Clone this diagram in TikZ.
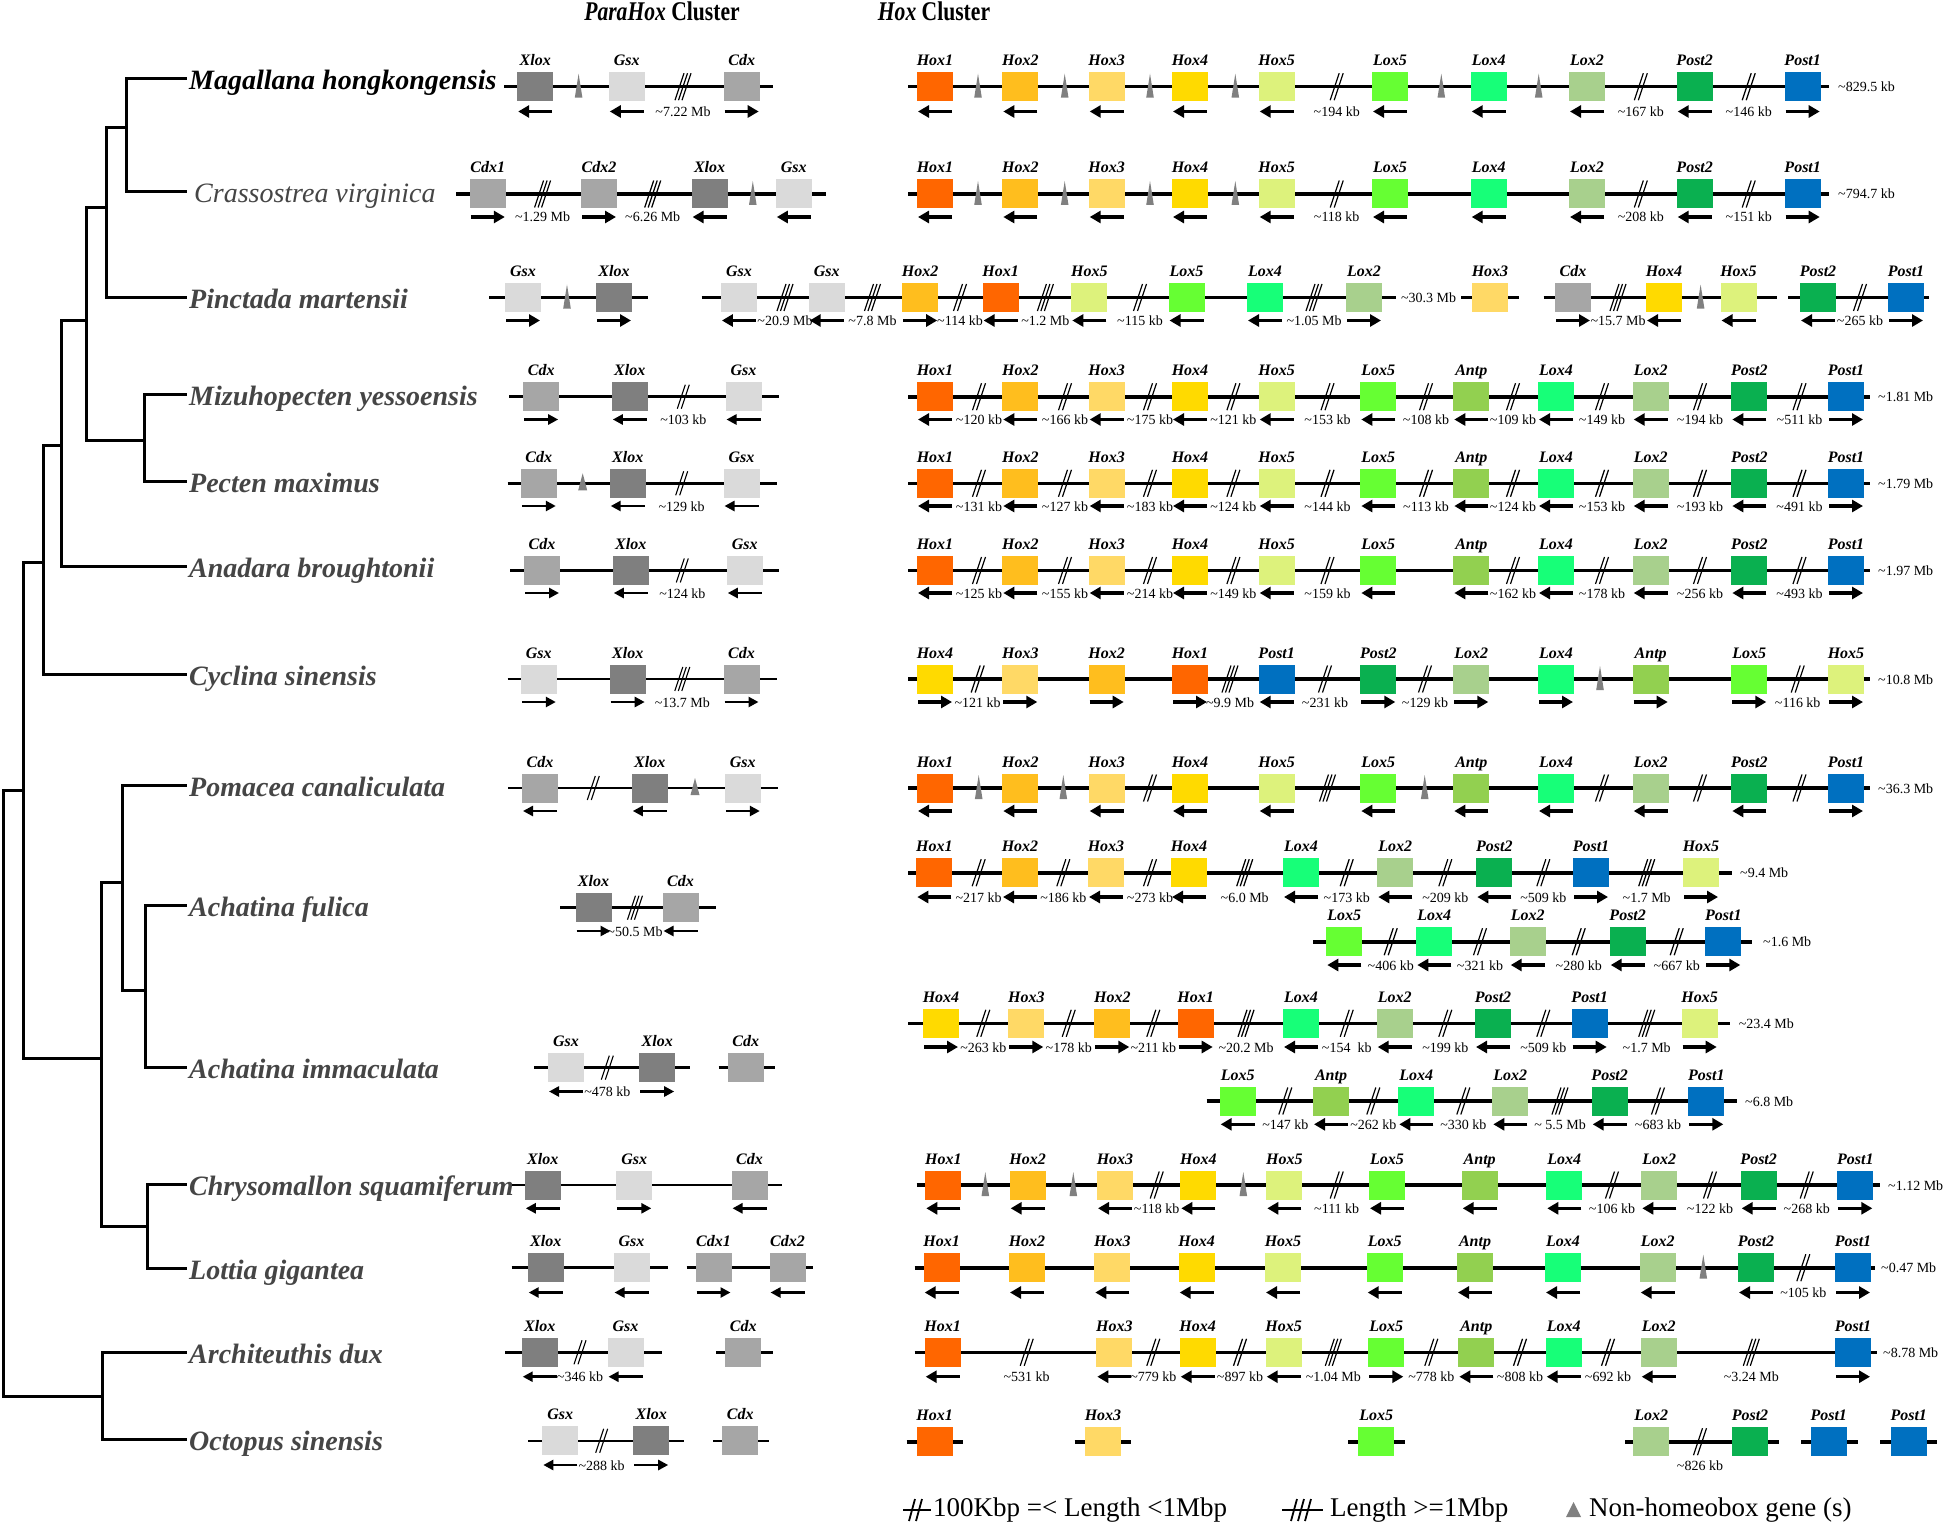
\documentclass[tikz,border=0pt]{standalone}
\usepackage{fontspec}
\setmainfont{Liberation Serif}
\newfontfamily\titlefam[FakeStretch=0.8]{Liberation Serif}
\usetikzlibrary{arrows.meta}
\definecolor{gcHox1}{HTML}{FF6600}
\definecolor{gcHox2}{HTML}{FFBE1E}
\definecolor{gcHox3}{HTML}{FFD966}
\definecolor{gcHox4}{HTML}{FFDA00}
\definecolor{gcHox5}{HTML}{DDF27C}
\definecolor{gcLox5}{HTML}{66FF33}
\definecolor{gcAntp}{HTML}{92D050}
\definecolor{gcLox4}{HTML}{17FF78}
\definecolor{gcLox2}{HTML}{A8D08D}
\definecolor{gcPost2}{HTML}{0AB050}
\definecolor{gcPost1}{HTML}{0070C0}
\definecolor{gcXlox}{HTML}{7F7F7F}
\definecolor{gcGsx}{HTML}{DADADA}
\definecolor{gcCdx}{HTML}{A6A6A6}
\definecolor{gcCdx1}{HTML}{A6A6A6}
\definecolor{gcCdx2}{HTML}{A6A6A6}
\definecolor{cTri}{HTML}{808080}
\definecolor{cName}{HTML}{454545}
\newcounter{gcnt}
\newcommand{\tld}{\textasciitilde}
\def\ly{0}\def\ay{0}\def\sh{13}\def\sw{4}
\tikzset{
 genebox/.style={minimum width=36pt, minimum height=29pt, inner sep=0pt, draw=none},
 genelab/.style={anchor=base, inner sep=0pt, font=\fontsize{16}{16}\selectfont\bfseries\itshape},
 distlab/.style={anchor=base, inner sep=0.5pt, font=\fontsize{14}{14}\selectfont},
 sizelab/.style={anchor=base west, inner sep=0pt, font=\fontsize{14}{14}\selectfont},
 hchrom/.style={line width=3.6pt},
 pchrom/.style={line width=2.6pt},
 harr/.style={line width=3.4pt, -{Triangle[length=11pt,width=12pt]}},
 parr/.style={line width=2.5pt, -{Triangle[length=10pt,width=10pt]}},
 hslash/.style={line width=1.2pt},
 pslash/.style={line width=1.1pt},
 treeline/.style={line width=3pt, line cap=rect},
 spname/.style={anchor=base west, inner sep=0pt, text=cName, font=\fontsize{28}{28}\selectfont\bfseries\itshape},
 legfont/.style={anchor=west, inner sep=0pt, font=\fontsize{27}{27}\selectfont},
 titlefont/.style={inner sep=0pt, font=\titlefam\fontsize{27}{27}\selectfont\bfseries},
 curchrom/.style={hchrom}, curarr/.style={harr}, curslash/.style={hslash}
}
\newcommand{\hoxmode}{\tikzset{curchrom/.style={hchrom},curarr/.style={harr},curslash/.style={hslash}}\def\sh{13.5}\def\sw{4.5}}
\newcommand{\parmode}{\tikzset{curchrom/.style={pchrom},curarr/.style={parr},curslash/.style={pslash}}\def\sh{12}\def\sw{4}}
\newcommand{\gline}[2]{\draw[curchrom] (#1,\ly) -- (#2,\ly);}
\newcommand{\gtri}[1]{\fill[cTri] ({#1-3.8},{\ly+11}) -- (#1,{\ly-13}) -- ({#1+3.8},{\ly+11}) -- cycle;}
\newcommand{\ptri}[1]{\fill[cTri] ({#1-4.5},{\ly+7}) -- (#1,{\ly-10}) -- ({#1+4.5},{\ly+7}) -- cycle;}
\newcommand{\gsize}[2]{\stepcounter{gcnt}\node[sizelab] (s\arabic{gcnt}) at (#1,{\ly+5}) {#2};}
\newcommand{\ggene}[3]{%
  \stepcounter{gcnt}%
  \node[genebox,fill=gc#2] (g\arabic{gcnt}) at (#1,\ly) {};
  \node[genelab] (l\arabic{gcnt}) at (#1,{\ly-21}) {#2};
  \if#3l\draw[curarr] ({#1+17},\ay) -- ({#1-17},\ay);\fi
  \if#3r\draw[curarr] ({#1-17},\ay) -- ({#1+17},\ay);\fi
}
\newcommand{\gbrk}[3]{%
  \ifnum#2=2
    \draw[curslash] ({#1-2-\sw},{\ly+\sh}) -- ({#1-2+\sw},{\ly-\sh}) ({#1+2-\sw},{\ly+\sh}) -- ({#1+2+\sw},{\ly-\sh});
  \else
    \draw[curslash] ({#1-3.5-\sw},{\ly+\sh}) -- ({#1-3.5+\sw},{\ly-\sh}) ({#1-\sw},{\ly+\sh}) -- ({#1+\sw},{\ly-\sh}) ({#1+3.5-\sw},{\ly+\sh}) -- ({#1+3.5+\sw},{\ly-\sh});
  \fi
  \stepcounter{gcnt}\node[distlab] (d\arabic{gcnt}) at (#1,{\ay+5}) {#3};}

\begin{document}
\begin{tikzpicture}[x=1pt,y=-1pt]
\fill[white] (0,0) rectangle (1946,1525);
\useasboundingbox (0,0) rectangle (1946,1525);

% ---------------- titles
\node[titlefont] (tPara) at (662,11) {\textit{ParaHox} Cluster};
\node[titlefont] (tHox) at (934,11) {\textit{Hox} Cluster};

% ---------------- tree
\coordinate (Lmag) at (185,79);
\coordinate (Lcra) at (185,191.5);
\coordinate (Lpin) at (185,297);
\coordinate (Lmiz) at (185,394);
\coordinate (Lpec) at (185,481);
\coordinate (Lana) at (185,566);
\coordinate (Lcyc) at (185,674);
\coordinate (Lpom) at (185,785);
\coordinate (Lafu) at (185,905);
\coordinate (Laim) at (185,1067);
\coordinate (Lchr) at (185,1184);
\coordinate (Llot) at (185,1268);
\coordinate (Larc) at (185,1352);
\coordinate (Loct) at (185,1439);
\coordinate (N1) at (126.7,128);
\coordinate (N2) at (106,208);
\coordinate (N3) at (144,440);
\coordinate (N4) at (86.7,320);
\coordinate (N5) at (61,445);
\coordinate (N6) at (43,562);
\coordinate (N7) at (145,990);
\coordinate (N8) at (122,882);
\coordinate (N9) at (147,1226);
\coordinate (N10) at (101,1058);
\coordinate (N11) at (23,790);
\coordinate (N12) at (102,1396);
\coordinate (NR) at (3.5,1000);
\draw[treeline] (Lmag) -| (N1) |- (Lcra);
\draw[treeline] (N1) -| (N2) |- (Lpin);
\draw[treeline] (Lmiz) -| (N3) |- (Lpec);
\draw[treeline] (N2) -| (N4) |- (N3);
\draw[treeline] (N4) -| (N5) |- (Lana);
\draw[treeline] (N5) -| (N6) |- (Lcyc);
\draw[treeline] (Lafu) -| (N7) |- (Laim);
\draw[treeline] (Lpom) -| (N8) |- (N7);
\draw[treeline] (Lchr) -| (N9) |- (Llot);
\draw[treeline] (N8) -| (N10) |- (N9);
\draw[treeline] (N6) -| (N11) |- (N10);
\draw[treeline] (Larc) -| (N12) |- (Loct);
\draw[treeline] (N11) -| (NR) |- (N12);

% ---------------- species names
\node[spname,text=black] (nMag) at (189,90) {Magallana hongkongensis};
\node[spname,font=\fontsize{28}{28}\selectfont\itshape] (nCra) at (194,202.5) {Crassostrea virginica};
\node[spname] (nPin) at (189,308) {Pinctada martensii};
\node[spname] (nMiz) at (189,405) {Mizuhopecten yessoensis};
\node[spname] (nPec) at (189,492) {Pecten maximus};
\node[spname] (nAna) at (189,577) {Anadara broughtonii};
\node[spname] (nCyc) at (189,685) {Cyclina sinensis};
\node[spname] (nPom) at (189,796) {Pomacea canaliculata};
\node[spname] (nAfu) at (189,916) {Achatina fulica};
\node[spname] (nAim) at (189,1078) {Achatina immaculata};
\node[spname] (nChr) at (189,1195) {Chrysomallon squamiferum};
\node[spname] (nLot) at (189,1279) {Lottia gigantea};
\node[spname] (nArc) at (189,1363) {Architeuthis dux};
\node[spname] (nOct) at (189,1450) {Octopus sinensis};

% ================= Row 1 Magallana
\hoxmode
\def\ly{86.7}\def\ay{111.5}
\gline{908}{1829}
\ggene{935}{Hox1}{l}\ggene{1020.3}{Hox2}{l}\ggene{1106.7}{Hox3}{l}\ggene{1190}{Hox4}{l}\ggene{1276.7}{Hox5}{l}
\ggene{1390}{Lox5}{l}\ggene{1488.7}{Lox4}{l}\ggene{1587}{Lox2}{l}\ggene{1694.7}{Post2}{l}\ggene{1802.7}{Post1}{r}
\gtri{978}\gtri{1064.7}\gtri{1150}\gtri{1235.3}\gtri{1441.3}\gtri{1538.7}
\gbrk{1336.7}{2}{\tld194 kb}\gbrk{1640.8}{2}{\tld167 kb}\gbrk{1748.7}{2}{\tld146 kb}
\gsize{1838}{\tld829.5 kb}
\gline{504}{773}
\ggene{535.2}{Xlox}{l}\gtri{578.6}\ggene{626.8}{Gsx}{l}\gbrk{683}{3}{\tld7.22 Mb}\ggene{741.7}{Cdx}{r}

% ================= Row 2 Crassostrea
\def\ly{194}\def\ay{217}
\gline{908}{1829}
\ggene{935}{Hox1}{l}\ggene{1020.3}{Hox2}{l}\ggene{1106.7}{Hox3}{l}\ggene{1190}{Hox4}{l}\ggene{1276.7}{Hox5}{l}
\ggene{1390}{Lox5}{l}\ggene{1488.7}{Lox4}{l}\ggene{1587}{Lox2}{l}\ggene{1694.7}{Post2}{l}\ggene{1802.7}{Post1}{r}
\gtri{978}\gtri{1064.7}\gtri{1150}\gtri{1235.3}
\gbrk{1336.7}{2}{\tld118 kb}\gbrk{1640.8}{2}{\tld208 kb}\gbrk{1748.7}{2}{\tld151 kb}
\gsize{1838}{\tld794.7 kb}
\gline{456}{826}
\ggene{487.8}{Cdx1}{r}\gbrk{542.6}{3}{\tld1.29 Mb}\ggene{599}{Cdx2}{r}\gbrk{652.7}{3}{\tld6.26 Mb}
\ggene{709.6}{Xlox}{l}\gtri{752.8}\ggene{793.8}{Gsx}{l}

% ================= Row 3 Pinctada
\def\ly{297.5}\def\ay{320.5}
\gline{489}{648}
\ggene{523}{Gsx}{r}\gtri{567}\ggene{614}{Xlox}{r}
\gline{701.5}{1396}
\ggene{738.9}{Gsx}{l}\gbrk{785}{3}{\tld20.9 Mb}\ggene{826.7}{Gsx}{l}\gbrk{872.5}{3}{\tld7.8 Mb}
\ggene{920.2}{Hox2}{r}\gbrk{960}{2}{\tld114 kb}\ggene{1000.6}{Hox1}{l}\gbrk{1045.4}{3}{\tld1.2 Mb}
\ggene{1089.3}{Hox5}{l}\gbrk{1140}{2}{\tld115 kb}\ggene{1186.5}{Lox5}{l}
\ggene{1265}{Lox4}{l}\gbrk{1314}{3}{\tld1.05 Mb}\ggene{1364}{Lox2}{r}
\stepcounter{gcnt}\node[distlab] (m\arabic{gcnt}) at (1428.6,{\ly+5}) {\tld30.3 Mb};
\gline{1461}{1519}
\ggene{1490}{Hox3}{n}
\gline{1543.5}{1777}
\ggene{1573}{Cdx}{r}\gbrk{1618}{3}{\tld15.7 Mb}\ggene{1664}{Hox4}{l}\gtri{1700.6}\ggene{1738.5}{Hox5}{l}
\gline{1788.4}{1928.6}
\ggene{1818}{Post2}{l}\gbrk{1860}{2}{\tld265 kb}\ggene{1906}{Post1}{r}

% ================= Row 4 Mizuhopecten
\def\ly{396.7}\def\ay{419.5}
\gline{908}{1870}
\ggene{935}{Hox1}{l}\ggene{1020.3}{Hox2}{l}\ggene{1106.7}{Hox3}{l}\ggene{1190}{Hox4}{l}\ggene{1276.7}{Hox5}{l}
\ggene{1378.3}{Lox5}{l}\ggene{1471.3}{Antp}{l}\ggene{1556}{Lox4}{l}\ggene{1650.7}{Lox2}{l}\ggene{1749.3}{Post2}{l}\ggene{1846}{Post1}{r}
\gbrk{979}{2}{\tld120 kb}\gbrk{1065}{2}{\tld166 kb}\gbrk{1150}{2}{\tld175 kb}\gbrk{1233.4}{2}{\tld121 kb}
\gbrk{1327.5}{2}{\tld153 kb}\gbrk{1426}{2}{\tld108 kb}\gbrk{1513}{2}{\tld109 kb}\gbrk{1602}{2}{\tld149 kb}
\gbrk{1700}{2}{\tld194 kb}\gbrk{1799.5}{2}{\tld511 kb}
\gsize{1878}{\tld1.81 Mb}
\parmode
\gline{509}{779}
\ggene{541.2}{Cdx}{r}\ggene{629.8}{Xlox}{l}\gbrk{683.3}{2}{\tld103 kb}\ggene{743.5}{Gsx}{l}

% ================= Row 5 Pecten
\hoxmode
\def\ly{483.3}\def\ay{506}
\gline{908}{1870}
\ggene{935}{Hox1}{l}\ggene{1020.3}{Hox2}{l}\ggene{1106.7}{Hox3}{l}\ggene{1190}{Hox4}{l}\ggene{1276.7}{Hox5}{l}
\ggene{1378.3}{Lox5}{l}\ggene{1471.3}{Antp}{l}\ggene{1556}{Lox4}{l}\ggene{1650.7}{Lox2}{l}\ggene{1749.3}{Post2}{l}\ggene{1846}{Post1}{r}
\gbrk{979}{2}{\tld131 kb}\gbrk{1065}{2}{\tld127 kb}\gbrk{1150}{2}{\tld183 kb}\gbrk{1233.4}{2}{\tld124 kb}
\gbrk{1327.5}{2}{\tld144 kb}\gbrk{1426}{2}{\tld113 kb}\gbrk{1513}{2}{\tld124 kb}\gbrk{1602}{2}{\tld153 kb}
\gbrk{1700}{2}{\tld193 kb}\gbrk{1799.5}{2}{\tld491 kb}
\gsize{1878}{\tld1.79 Mb}
\parmode
\gline{507.7}{776.7}
\ggene{538.8}{Cdx}{r}\ptri{582.7}\ggene{627.7}{Xlox}{l}\gbrk{681.7}{2}{\tld129 kb}\ggene{741.5}{Gsx}{l}

% ================= Row 6 Anadara
\hoxmode
\def\ly{570.5}\def\ay{593}
\gline{908}{1870}
\ggene{935}{Hox1}{l}\ggene{1020.3}{Hox2}{l}\ggene{1106.7}{Hox3}{l}\ggene{1190}{Hox4}{l}\ggene{1276.7}{Hox5}{l}
\ggene{1378.3}{Lox5}{l}\ggene{1471.3}{Antp}{l}\ggene{1556}{Lox4}{l}\ggene{1650.7}{Lox2}{l}\ggene{1749.3}{Post2}{l}\ggene{1846}{Post1}{r}
\gbrk{979}{2}{\tld125 kb}\gbrk{1065}{2}{\tld155 kb}\gbrk{1150}{2}{\tld214 kb}\gbrk{1233.4}{2}{\tld149 kb}
\gbrk{1327.5}{2}{\tld159 kb}\gbrk{1513}{2}{\tld162 kb}\gbrk{1602}{2}{\tld178 kb}
\gbrk{1700}{2}{\tld256 kb}\gbrk{1799.5}{2}{\tld493 kb}
\gsize{1878}{\tld1.97 Mb}
\parmode
\gline{510}{779.3}
\ggene{542}{Cdx}{r}\ggene{630.8}{Xlox}{l}\gbrk{682.3}{2}{\tld124 kb}\ggene{744.8}{Gsx}{l}

% ================= Row 7 Cyclina
\hoxmode
\def\ly{679}\def\ay{702}
\gline{908}{1870}
\ggene{935}{Hox4}{r}\ggene{1020.3}{Hox3}{r}\ggene{1106.7}{Hox2}{r}\ggene{1190}{Hox1}{r}\ggene{1276.7}{Post1}{l}
\ggene{1378.3}{Post2}{r}\ggene{1471.3}{Lox2}{r}\ggene{1556}{Lox4}{r}\ggene{1650.7}{Antp}{r}\ggene{1749.3}{Lox5}{r}\ggene{1846}{Hox5}{r}
\gbrk{977.7}{2}{\tld121 kb}\gbrk{1230}{3}{\tld9.9 Mb}\gbrk{1325}{2}{\tld231 kb}\gbrk{1425}{2}{\tld129 kb}
\gtri{1600}\gbrk{1797.7}{2}{\tld116 kb}
\gsize{1878}{\tld10.8 Mb}
\parmode
\gline{507.7}{776.7}
\ggene{538.8}{Gsx}{r}\ggene{627.7}{Xlox}{r}\gbrk{682.3}{3}{\tld13.7 Mb}\ggene{741.5}{Cdx}{r}

% ================= Row 8 Pomacea
\hoxmode
\def\ly{788}\def\ay{811}
\gline{908}{1870}
\ggene{935}{Hox1}{l}\ggene{1020.3}{Hox2}{l}\ggene{1106.7}{Hox3}{l}\ggene{1190}{Hox4}{l}\ggene{1276.7}{Hox5}{l}
\ggene{1378.3}{Lox5}{l}\ggene{1471.3}{Antp}{l}\ggene{1556}{Lox4}{l}\ggene{1650.7}{Lox2}{l}\ggene{1749.3}{Post2}{l}\ggene{1846}{Post1}{r}
\gtri{978.7}\gtri{1063.3}\gtri{1424.7}
\gbrk{1150}{2}{}\gbrk{1327.5}{3}{}\gbrk{1602}{2}{}\gbrk{1700}{2}{}\gbrk{1799.5}{2}{}
\gsize{1878}{\tld36.3 Mb}
\parmode
\gline{508.3}{777.7}
\ggene{540}{Cdx}{l}\gbrk{593.3}{2}{}\ggene{649.8}{Xlox}{l}\ptri{695}\ggene{742.8}{Gsx}{r}

% ================= Row 9/10 Achatina fulica
\hoxmode
\def\ly{872.7}\def\ay{897}
\gline{908}{1732}
\ggene{934.3}{Hox1}{l}\gbrk{978.7}{2}{\tld217 kb}\ggene{1020}{Hox2}{l}\gbrk{1063.3}{2}{\tld186 kb}
\ggene{1106}{Hox3}{l}\gbrk{1150}{2}{\tld273 kb}\ggene{1189}{Hox4}{l}\gbrk{1244.7}{3}{\tld6.0 Mb}
\ggene{1301}{Lox4}{l}\gbrk{1346.7}{2}{\tld173 kb}\ggene{1395.3}{Lox2}{l}\gbrk{1445.3}{2}{\tld209 kb}
\ggene{1494.3}{Post2}{l}\gbrk{1543.3}{2}{\tld509 kb}\ggene{1591}{Post1}{r}\gbrk{1646.7}{3}{\tld1.7 Mb}\ggene{1701}{Hox5}{r}
\gsize{1740}{\tld9.4 Mb}
\def\ly{941.7}\def\ay{965}
\gline{1313.3}{1752}
\ggene{1344.3}{Lox5}{l}\gbrk{1390.7}{2}{\tld406 kb}\ggene{1434.3}{Lox4}{l}\gbrk{1480}{2}{\tld321 kb}
\ggene{1527.7}{Lox2}{l}\gbrk{1578.7}{2}{\tld280 kb}\ggene{1627.7}{Post2}{l}\gbrk{1676.7}{2}{\tld667 kb}\ggene{1723.3}{Post1}{r}
\gsize{1763}{\tld1.6 Mb}
\parmode
\def\ly{907.7}\def\ay{931}
\gline{560}{716}
\ggene{593.5}{Xlox}{r}\gbrk{635}{3}{\tld50.5 Mb}\ggene{680.5}{Cdx}{l}

% ================= Row 11/12 Achatina immaculata
\hoxmode
\def\ly{1023.3}\def\ay{1047}
\gline{908}{1730}
\ggene{941}{Hox4}{r}\gbrk{983.3}{2}{\tld263 kb}\ggene{1026.3}{Hox3}{r}\gbrk{1068.7}{2}{\tld178 kb}
\ggene{1112.3}{Hox2}{r}\gbrk{1153.3}{2}{\tld211 kb}\ggene{1195.7}{Hox1}{r}\gbrk{1246}{3}{\tld20.2 Mb}
\ggene{1301}{Lox4}{l}\gbrk{1346.7}{2}{\tld154\ \ kb}\ggene{1394.7}{Lox2}{l}\gbrk{1445.3}{2}{\tld199 kb}
\ggene{1493}{Post2}{l}\gbrk{1543.3}{2}{\tld509 kb}\ggene{1589.7}{Post1}{r}\gbrk{1646.7}{3}{\tld1.7 Mb}\ggene{1699.7}{Hox5}{r}
\gsize{1738.7}{\tld23.4 Mb}
\def\ly{1101}\def\ay{1124.3}
\gline{1206.7}{1736.7}
\ggene{1237.7}{Lox5}{l}\gbrk{1285.3}{2}{\tld147 kb}\ggene{1331}{Antp}{l}\gbrk{1373.3}{2}{\tld262 kb}
\ggene{1416.3}{Lox4}{l}\gbrk{1463.3}{2}{\tld330 kb}\ggene{1510.3}{Lox2}{l}\gbrk{1560}{3}{\tld\ 5.5 Mb}
\ggene{1609.7}{Post2}{l}\gbrk{1658}{2}{\tld683 kb}\ggene{1706.3}{Post1}{r}
\gsize{1745}{\tld6.8 Mb}
\parmode
\def\ly{1067.6}\def\ay{1091.5}
\gline{534}{690}
\ggene{566}{Gsx}{l}\gbrk{607.3}{2}{\tld478 kb}\ggene{657.2}{Xlox}{r}
\gline{718.7}{775.3}
\ggene{745.8}{Cdx}{n}

% ================= Row 13 Chrysomallon
\hoxmode
\def\ly{1185}\def\ay{1208.3}
\gline{916.7}{1880}
\ggene{943.3}{Hox1}{l}\gtri{985.3}\ggene{1027.7}{Hox2}{l}\gtri{1073.3}\ggene{1115}{Hox3}{l}\gbrk{1156.7}{2}{\tld118 kb}
\ggene{1198.3}{Hox4}{l}\gtri{1243.3}\ggene{1284.3}{Hox5}{l}\gbrk{1336.7}{2}{\tld111 kb}\ggene{1387}{Lox5}{l}
\ggene{1479.7}{Antp}{l}\ggene{1564.3}{Lox4}{l}\gbrk{1612}{2}{\tld106 kb}\ggene{1659.3}{Lox2}{l}\gbrk{1710}{2}{\tld122 kb}
\ggene{1758.7}{Post2}{l}\gbrk{1806.7}{2}{\tld268 kb}\ggene{1855.3}{Post1}{r}
\gsize{1888}{\tld1.12 Mb}
\parmode
\gline{511.7}{781.7}
\ggene{542.8}{Xlox}{l}\ggene{634.3}{Gsx}{r}\ggene{749.5}{Cdx}{l}

% ================= Row 14 Lottia
\hoxmode
\def\ly{1267.7}\def\ay{1292.5}
\gline{914.7}{1874.7}
\ggene{941.7}{Hox1}{l}\ggene{1027}{Hox2}{l}\ggene{1112.3}{Hox3}{l}\ggene{1196.7}{Hox4}{l}\ggene{1283}{Hox5}{l}
\ggene{1384.7}{Lox5}{l}\ggene{1475}{Antp}{l}\ggene{1563}{Lox4}{l}\ggene{1657.7}{Lox2}{l}\gtri{1703.3}
\ggene{1756}{Post2}{l}\gbrk{1803.3}{2}{\tld105 kb}\ggene{1853}{Post1}{r}
\gsize{1881}{\tld0.47 Mb}
\parmode
\gline{511.7}{667.7}
\ggene{545.7}{Xlox}{l}\ggene{631.5}{Gsx}{l}
\gline{686.7}{813.3}
\ggene{713.5}{Cdx1}{r}\ggene{787.5}{Cdx2}{l}

% ================= Row 15 Architeuthis
\hoxmode
\def\ly{1352.3}\def\ay{1376.7}
\gline{914.7}{1876.7}
\ggene{942.7}{Hox1}{l}\gbrk{1026.7}{2}{\tld531 kb}\ggene{1114.3}{Hox3}{l}\gbrk{1153.3}{2}{\tld779 kb}
\ggene{1197.7}{Hox4}{l}\gbrk{1240}{2}{\tld897 kb}\ggene{1283.7}{Hox5}{l}\gbrk{1333.3}{3}{\tld1.04 Mb}
\ggene{1386.3}{Lox5}{r}\gbrk{1431.3}{2}{\tld778 kb}\ggene{1476.3}{Antp}{l}\gbrk{1520}{2}{\tld808 kb}
\ggene{1563.7}{Lox4}{l}\gbrk{1608}{2}{\tld692 kb}\ggene{1658.7}{Lox2}{l}\gbrk{1751.3}{3}{\tld3.24 Mb}\ggene{1853}{Post1}{r}
\gsize{1883}{\tld8.78 Mb}
\parmode
\gline{505}{661.7}
\ggene{539.7}{Xlox}{l}\gbrk{580}{2}{\tld346 kb}\ggene{625.5}{Gsx}{l}
\gline{716}{772.7}
\ggene{743.3}{Cdx}{n}

% ================= Row 16 Octopus
\hoxmode
\def\ly{1441.7}\def\ay{1465.7}
\gline{906.7}{963.3}\ggene{934.7}{Hox1}{n}
\gline{1074.7}{1131.3}\ggene{1103}{Hox3}{n}
\gline{1348}{1405.3}\ggene{1376.3}{Lox5}{n}
\gline{1625.3}{1778.7}\ggene{1651.3}{Lox2}{n}\gbrk{1700}{2}{\tld826 kb}\ggene{1750}{Post2}{n}
\gline{1801.3}{1858}\ggene{1828.7}{Post1}{n}
\gline{1880}{1936.7}\ggene{1908.7}{Post1}{n}
\parmode
\def\ly{1440.8}\def\ay{1465}
\gline{528.3}{684}
\ggene{560.3}{Gsx}{l}\gbrk{601.7}{2}{\tld288 kb}\ggene{651.2}{Xlox}{r}
\gline{713.3}{769.3}
\ggene{740.3}{Cdx}{n}

% ---------------- legend
\draw[line width=2.6pt] (903,1510) -- (931,1510);
\draw[line width=1.8pt] (909,1521) -- (915,1499) (916,1521) -- (922,1499);
\node[legfont] (leg1) at (933,1510) {100Kbp =< Length <1Mbp};
\draw[line width=2.6pt] (1282,1510) -- (1323,1510);
\draw[line width=1.8pt] (1291,1521) -- (1297,1499) (1298,1521) -- (1304,1499) (1305,1521) -- (1311,1499);
\node[legfont] (leg2) at (1330,1510) {Length >=1Mbp};
\fill[cTri] (1566,1517) -- (1573.5,1502) -- (1581,1517) -- cycle;
\node[legfont] (leg3) at (1589,1510) {Non-homeobox gene (s)};
\end{tikzpicture}
\end{document}
